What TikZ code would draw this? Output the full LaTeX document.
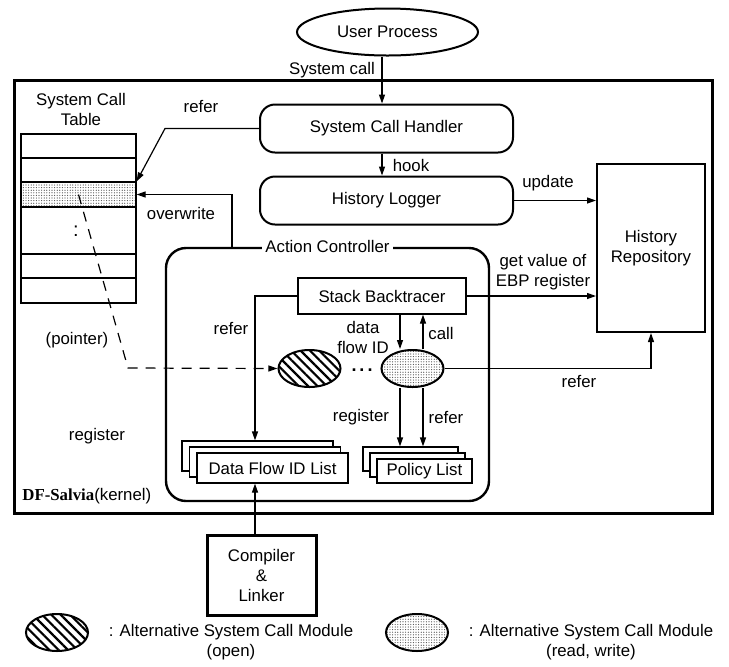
\documentclass[tikz,border=0pt]{standalone}
\usepackage{fontspec}
\setmainfont{Liberation Sans}
\newfontfamily\serifbold{Liberation Serif}
\usetikzlibrary{shapes.geometric, arrows.meta, positioning, patterns.meta}

\begin{document}
\begin{tikzpicture}[x=0.5pt, y=-0.5pt,
    every node/.style={font=\fontsize{8.4}{10}\selectfont, align=center},
    frame/.style={rectangle, draw, line width=1.5pt, minimum width=349pt, minimum height=216.5pt},
    proc/.style={ellipse, draw, line width=1pt, minimum width=90.5pt, minimum height=23.5pt, inner sep=0pt},
    handlerbox/.style={rectangle, rounded corners=7.5pt, draw, line width=1pt, minimum width=126.5pt, minimum height=24pt},
    box/.style={rectangle, draw, line width=0.6pt, inner sep=0pt},
    sheet/.style={rectangle, draw, fill=white, line width=0.6pt, inner sep=0pt},
    hatched/.style={ellipse, draw, line width=1pt, minimum width=31pt, minimum height=18.5pt, inner sep=0pt,
        pattern={Lines[angle=-45, distance=3.3pt, line width=1.1pt]}},
    dotted/.style={ellipse, draw, line width=1pt, minimum width=31pt, minimum height=18.5pt, inner sep=0pt,
        pattern={Dots[distance=1.3pt, radius=0.3pt]}, pattern color=black!70},
    arr/.style={-{Triangle[length=4.5pt, width=3pt]}, line width=0.6pt},
    ptr/.style={arr, dash pattern=on 5pt off 4pt},
]
    \useasboundingbox (0,0) rectangle (729,666);

    \node[frame] (kernel) at (363,296.5) {};
    \node[proc] (userproc) at (387.5,32) {User Process};
    \node[handlerbox] (handler) at (386.5,128.5) {System Call Handler};
    \node[handlerbox] (logger) at (386.5,200.5) {History Logger};
    \node[box, line width=1pt, minimum width=54pt, minimum height=84pt] (repo) at (651,248) {History\\Repository};

    \node (sctlabel) at (81,109) {System Call\\Table};
    \node[box, line width=1pt, minimum width=57.5pt, minimum height=84.5pt] (sct) at (78.5,218.5) {};
    \node[box, minimum width=57.5pt, minimum height=12.5pt, pattern={Dots[distance=1.3pt, radius=0.3pt]}, pattern color=black!70] (slot) at (78.5,194.5) {};
    \foreach \y in {158,254,278}
        \draw[line width=0.6pt] (sct.west |- 0,\y) -- (sct.east |- 0,\y);
    \node[font=\fontsize{10}{12}\selectfont] (gap) at (76,231) {:};

    \node[rectangle, rounded corners=10pt, draw, line width=1.2pt, minimum width=161.5pt, minimum height=126.5pt] (actionctl) at (327.5,374.5) {};
    \node[fill=white, inner sep=1.5pt] (actitle) at (actionctl.north) {Action Controller};
    \node[box, minimum width=84pt, minimum height=18pt] (backtracer) at (382,296) {Stack Backtracer};
    \node[hatched] (openmod) at (309.5,368.5) {};
    \node[font=\bfseries\fontsize{9}{10}\selectfont, inner sep=0pt] (more) at (362,370) {.\,.\,.};
    \node[dotted] (rwmod) at (412.5,368.5) {};

    \coordinate (dfpos) at (272.5,468);
    \coordinate (plpos) at (424.5,471);
    \foreach \k in {2,1} {
        \node[sheet, minimum width=75.5pt, minimum height=15pt] (dfsheet\k) at ([shift={(-7.5*\k,-6*\k)}]dfpos) {};
        \node[sheet, minimum width=47.5pt, minimum height=12pt] (plsheet\k) at ([shift={(-7*\k,-6*\k)}]plpos) {};
    }
    \node[sheet, minimum width=75.5pt, minimum height=15pt] (dflist) at (dfpos) {Data Flow ID List};
    \node[sheet, minimum width=47.5pt, minimum height=12pt] (plist) at (plpos) {Policy List};

    \node[box, line width=1.5pt, minimum width=54.5pt, minimum height=40pt] (compiler) at (261.5,575) {Compiler\\\&\\Linker};
    \node[anchor=west, inner sep=0pt] (dfsalvia) at (22,496) {{\serifbold\bfseries DF-Salvia}(kernel)};

    \coordinate (xin) at (382,0);
    \coordinate (xr) at (165,0);
    \coordinate (xo) at (232,0);
    \coordinate (xl) at (255,0);
    \coordinate (xa) at (400,0);
    \coordinate (xb) at (423,0);
    \coordinate (bend) at (128,368);

    \draw[arr] (userproc.south -| xin) -- (handler.north -| xin);
    \draw[arr] (handler.west) -- (handler.west -| xr) -- (slot.north east);
    \draw[arr] (handler.south -| xin) -- (logger.north -| xin);
    \draw[arr] (logger.east) -- (logger.east -| repo.west);
    \draw[arr] (actionctl.north -| xo) |- (slot.east);
    \draw[arr] (backtracer.east) -- (backtracer.east -| repo.west);
    \draw[arr] (backtracer.west) -| (xl |- dfsheet2.north);
    \draw[arr] (backtracer.south -| xa) -- (xa |- rwmod.north);
    \draw[arr] (xb |- rwmod.north) -- (backtracer.south -| xb);
    \draw[arr] (xa |- rwmod.south) -- (xa |- plsheet2.north);
    \draw[arr] (xb |- rwmod.south) -- (xb |- plsheet2.north);
    \draw[arr] (rwmod.east) -| (repo.south);
    \draw[ptr] (slot.center) -- (bend) -- (openmod.west);
    \draw[arr] (compiler.north -| xl) -- (dflist.south -| xl);

    \node (syscall) at (332,70) {System call};
    \node (lrefer1) at (201,106) {refer};
    \node (lhook) at (411,165) {hook};
    \node (lupdate) at (548,183) {update};
    \node (loverwrite) at (181,213) {overwrite};
    \node (lebp) at (543,272) {get value of\\EBP register};
    \node (lrefer2) at (231,328) {refer};
    \node (lpointer) at (77,340) {(pointer)};
    \node (ldfid) at (363,337) {data\\flow ID};
    \node (lcall) at (441,333) {call};
    \node (lregister1) at (361,417) {register};
    \node (lrefer3) at (446,417) {refer};
    \node (lrefer4) at (579,381) {refer};
    \node (lregister2) at (97,436) {register};

    \node[hatched] (legopen) at (57,632.5) {};
    \node (legopentext) at (231,642) {: Alternative System Call Module\\(open)};
    \node[dotted] (legrw) at (417,632.5) {};
    \node (legrwtext) at (591,642) {: Alternative System Call Module\\(read, write)};
\end{tikzpicture}
\end{document}
